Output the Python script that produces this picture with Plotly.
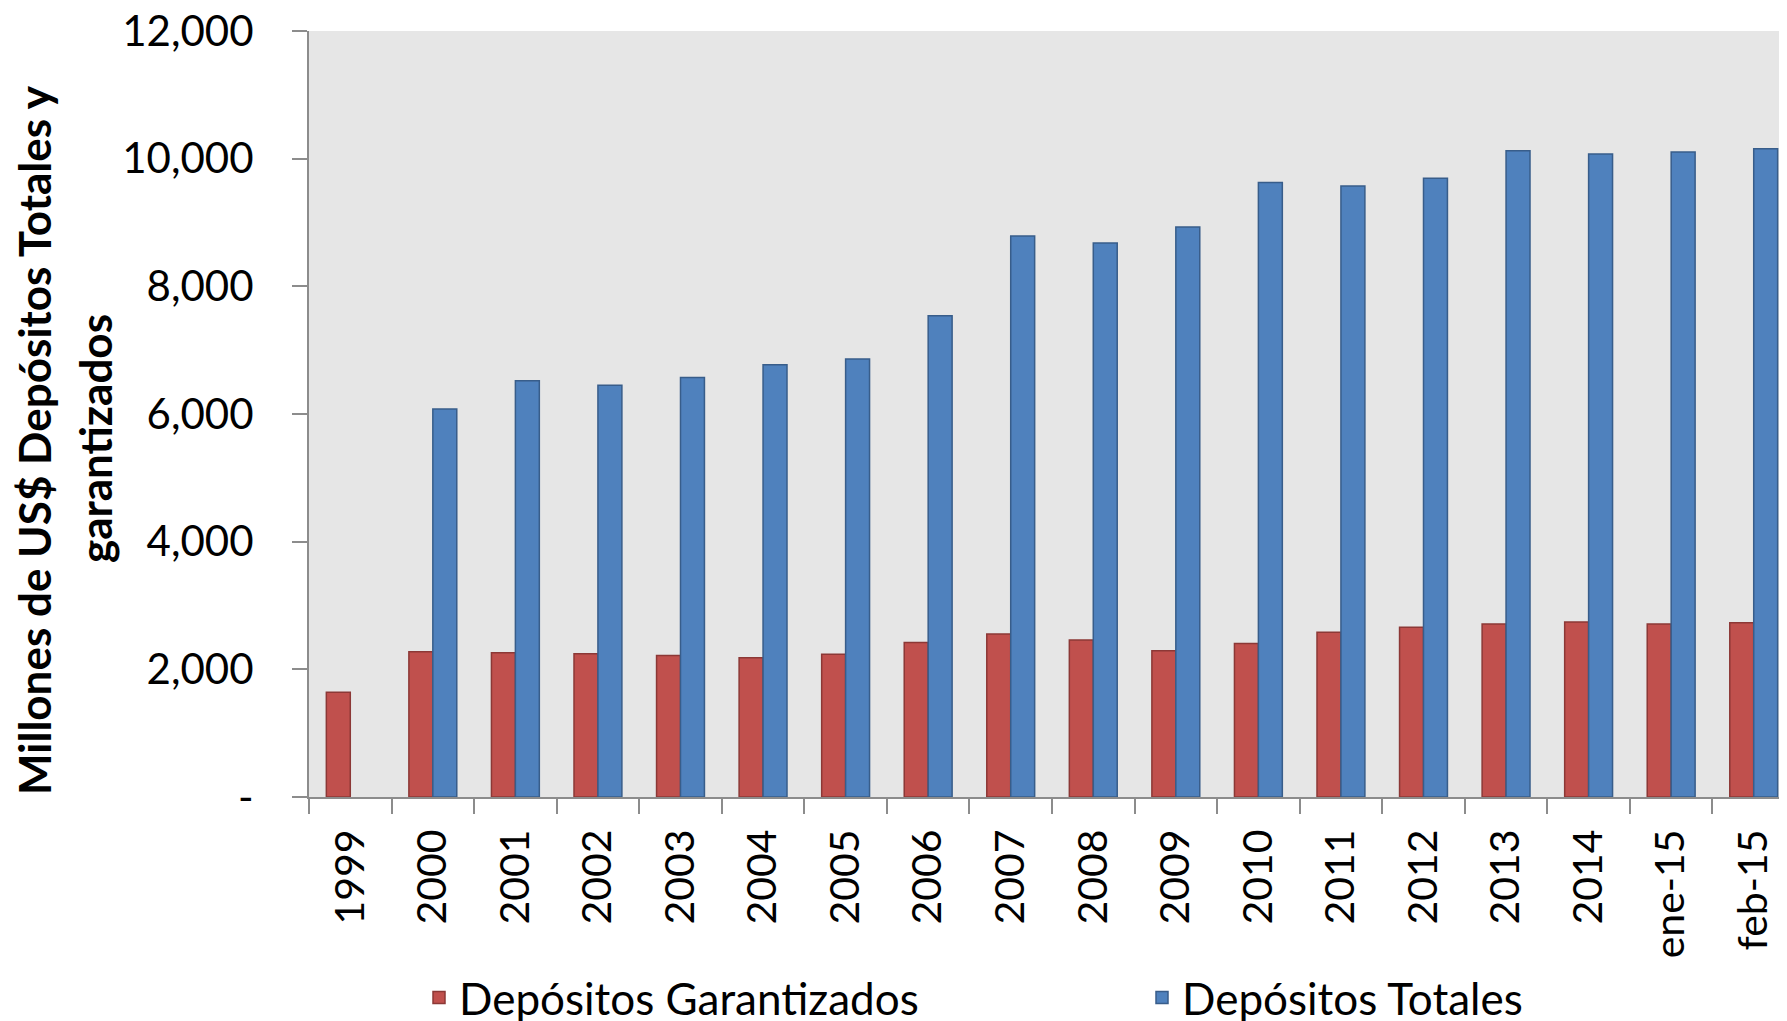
import plotly.graph_objects as go

categories = ["1999", "2000", "2001", "2002", "2003", "2004", "2005", "2006", "2007",
              "2008", "2009", "2010", "2011", "2012", "2013", "2014", "ene-15", "feb-15"]
garantizados = [1640, 2275, 2260, 2245, 2215, 2180, 2235, 2420, 2555,
                2460, 2290, 2405, 2580, 2660, 2710, 2740, 2710, 2730]
totales = [None, 6080, 6520, 6450, 6570, 6770, 6860, 7540, 8790,
           8680, 8930, 9625, 9570, 9695, 10125, 10075, 10105, 10155]
series_names = ["Depósitos Garantizados", "Depósitos Totales"]
y_tickvals = [0, 2000, 4000, 6000, 8000, 10000, 12000]
y_ticktext = ["-", "2,000", "4,000", "6,000", "8,000", "10,000", "12,000"]
title_lines = ["Millones de US$ Depósitos Totales y", "garantizados"]

# the page body adds an 8px offset; figure coordinates below account for it
W, H = 1787, 1021
L, R, T, B = 301, 0, 23, 232
x_range = [-0.5, len(categories) - 0.5]
y_range = [0, 12000]
axis_col = "#8C8C8C"
FONT = "Lato"

fig = go.Figure()
fig.add_bar(x=categories, y=garantizados, name=series_names[0],
            marker=dict(color="#C0504D", line=dict(color="#8C3836", width=1.5)))
fig.add_bar(x=categories, y=totales, name=series_names[1],
            marker=dict(color="#4F81BD", line=dict(color="#385D8A", width=1.5)))

fig.update_layout(
    width=W, height=H,
    margin=dict(l=L, r=R, t=T, b=B, pad=0, autoexpand=False),
    plot_bgcolor="#E6E6E6", paper_bgcolor="white",
    barmode="group", bargap=0.42, bargroupgap=0,
    font=dict(family=FONT, size=41, color="black"),
    showlegend=True,
    xaxis=dict(type="category", range=x_range, tickson="boundaries",
               ticks="outside", ticklen=15, tickwidth=2, tickcolor=axis_col,
               showline=True, linecolor=axis_col, linewidth=2,
               tickangle=-90, showgrid=False, zeroline=False,
               tickfont=dict(size=41), ticklabelstandoff=14, automargin=False,
               ticklabeloverflow="allow"),
    yaxis=dict(range=y_range, tickvals=y_tickvals, ticktext=y_ticktext,
               ticks="outside", ticklen=15, tickwidth=2, tickcolor=axis_col,
               showline=True, linecolor=axis_col, linewidth=2,
               showgrid=False, zeroline=False, tickfont=dict(size=42),
               ticklabelstandoff=30, automargin=False, ticklabeloverflow="allow"),
    xaxis2=dict(overlaying="x", anchor="y", range=x_range, tick0=-0.5, dtick=1,
                ticks="inside", ticklen=15, tickwidth=2, tickcolor=axis_col,
                showticklabels=False, showline=False, showgrid=False, zeroline=False),
    yaxis2=dict(overlaying="y", anchor="x", side="left", range=y_range, tickvals=y_tickvals,
                ticks="inside", ticklen=15, tickwidth=2, tickcolor=axis_col,
                showticklabels=False, showline=False, showgrid=False, zeroline=False),
    legend=dict(orientation="h", xref="container", yref="container",
                x=411 / W, y=1 - 990 / H, xanchor="left", yanchor="middle",
                entrywidth=678, font=dict(size=44), bgcolor="rgba(0,0,0,0)"),
)

plot_w = W - L - R
plot_h = H - T - B
plot_bottom = H - B
fig.add_annotation(text=title_lines[0], xref="paper", yref="paper",
                   x=(26 - L) / plot_w, y=(plot_bottom - 432) / plot_h,
                   xanchor="center", yanchor="middle", textangle=-90, showarrow=False,
                   font=dict(family=FONT, size=44, color="black", weight="bold"))
fig.add_annotation(text=title_lines[1], xref="paper", yref="paper",
                   x=(87 - L) / plot_w, y=(plot_bottom - 431) / plot_h,
                   xanchor="center", yanchor="middle", textangle=-90, showarrow=False,
                   font=dict(family=FONT, size=44, color="black", weight="bold"))

fig.write_html("out.html")
